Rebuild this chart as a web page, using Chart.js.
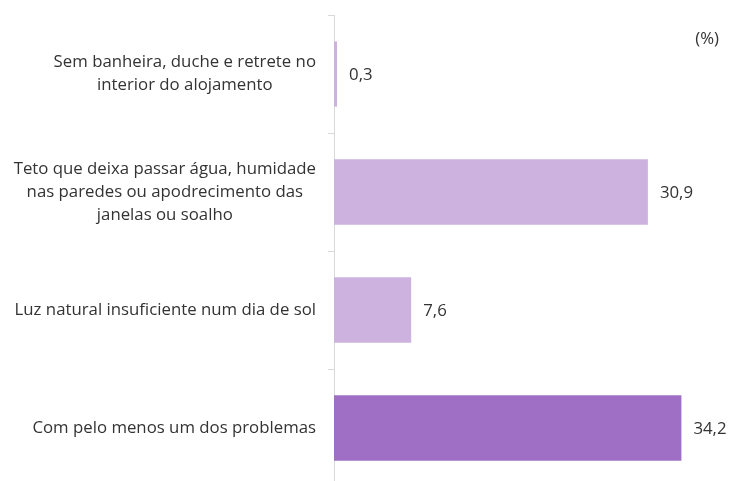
<!DOCTYPE html>
<html>
<head>
<meta charset="utf-8">
<script src="https://cdn.jsdelivr.net/npm/chart.js@4"></script>
<style>
  html, body { margin: 0; padding: 0; background: #fff; overflow: hidden; }
  #wrap { width: 730px; height: 490px; position: relative; }
</style>
</head>
<body>
<div id="wrap"><canvas id="myChart"></canvas></div>
<script>
const categories = [
    ["Sem banheira, duche e retrete no", "interior do alojamento"],
    ["Teto que deixa passar água, humidade", "nas paredes ou apodrecimento das", "janelas ou soalho"],
    ["Luz natural insuficiente num dia de sol"],
    ["Com pelo menos um dos problemas"],
];
const values = [0.3, 30.9, 7.6, 34.2];
const barColors = ["#cdb2e0", "#cdb2e0", "#cdb2e0", "#9e6fc4"];
const unitLabel = "(%)";

const fontFamily = "'Open Sans', 'Noto Sans', sans-serif";
const labelFont = "16.8px " + fontFamily;

// category labels: block right-aligned to the axis, lines centred inside the block
const categoryLabels = {
    id: "categoryLabels",
    afterDraw(chart) {
        const ctx = chart.ctx;
        const y = chart.scales.y;
        ctx.save();
        ctx.font = labelFont;
        ctx.fillStyle = "#333333";
        ctx.textBaseline = "middle";
        ctx.textAlign = "center";
        const right = y.right - 18;
        categories.forEach((lines, i) => {
            const w = Math.max(...lines.map((l) => ctx.measureText(l).width));
            const cx = right - w / 2;
            const cy = y.getPixelForTick(i);
            const lh = 23;
            lines.forEach((l, j) => {
                ctx.fillText(l, cx, cy + (j - (lines.length - 1) / 2) * lh);
            });
        });
        ctx.restore();
    },
};

const valueLabels = {
    id: "valueLabels",
    afterDatasetsDraw(chart) {
        const ctx = chart.ctx;
        const meta = chart.getDatasetMeta(0);
        ctx.save();
        ctx.font = labelFont;
        ctx.fillStyle = "#333333";
        ctx.textBaseline = "middle";
        ctx.textAlign = "left";
        meta.data.forEach((bar, i) => {
            ctx.fillText(values[i].toFixed(1).replace(".", ","), bar.x + 12, bar.y + 1);
        });
        ctx.textAlign = "right";
        ctx.fillText(unitLabel, 719, 39);
        ctx.restore();
    },
};

new Chart(document.querySelector("#myChart"), {
    type: "bar",
    data: {
        labels: categories,
        datasets: [
            {
                data: values,
                backgroundColor: barColors,
                barPercentage: 0.7,
                categoryPercentage: 0.79,
            },
        ],
    },
    options: {
        indexAxis: "y",
        responsive: true,
        maintainAspectRatio: false,
        animation: false,
        layout: { padding: { left: 0, right: 10, top: 15, bottom: 3 } },
        plugins: {
            legend: { display: false },
            tooltip: { enabled: false },
        },
        scales: {
            x: {
                display: false,
                min: 0,
                max: 38,
            },
            y: {
                afterFit(scale) {
                    scale.width = 334;
                    scale.paddingTop = 0;
                    scale.paddingBottom = 0;
                },
                border: { display: true, color: "#d9d9d9", width: 1 },
                grid: {
                    offset: true,
                    drawOnChartArea: false,
                    tickLength: 6,
                    color: "#d9d9d9",
                },
                ticks: { display: false },
            },
        },
    },
    plugins: [valueLabels, categoryLabels],
});
</script>
</body>
</html>
